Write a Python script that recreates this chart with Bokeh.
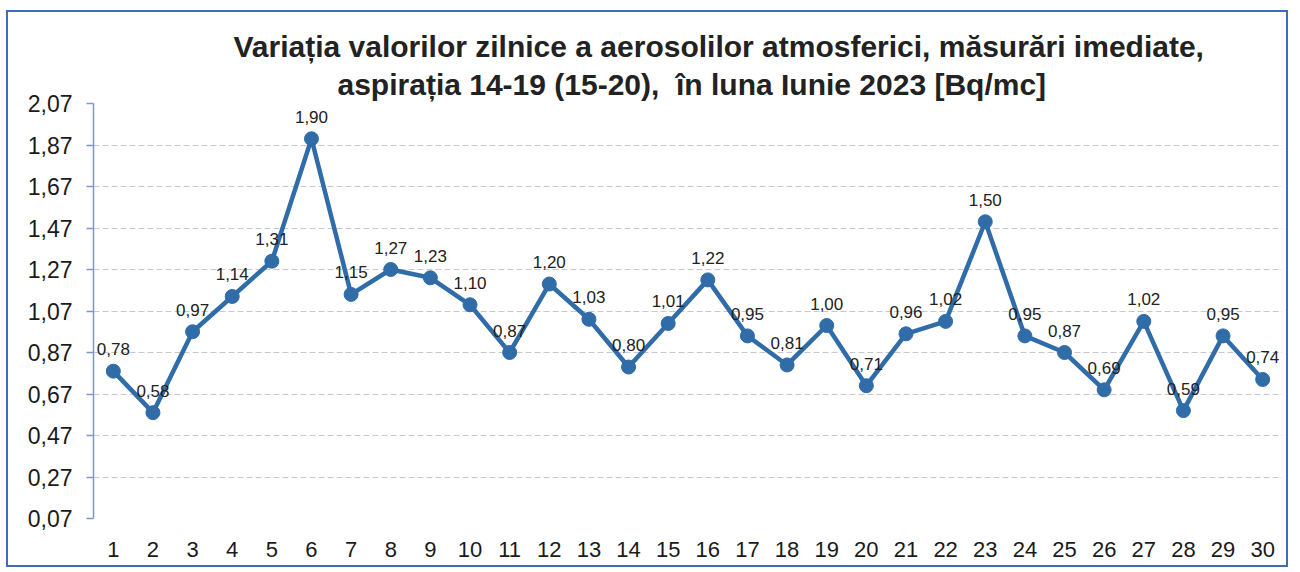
from bokeh.plotting import figure
from bokeh.layouts import column
from bokeh.models import FixedTicker, CustomJSTickFormatter, Title, ColumnDataSource
from bokeh.embed import file_html
from bokeh.resources import INLINE
from bokeh.core.properties import value

days = list(range(1, 31))
values = [0.78, 0.58, 0.97, 1.14, 1.31, 1.90, 1.15, 1.27, 1.23, 1.10,
          0.87, 1.20, 1.03, 0.80, 1.01, 1.22, 0.95, 0.81, 1.00, 0.71,
          0.96, 1.02, 1.50, 0.95, 0.87, 0.69, 1.02, 0.59, 0.95, 0.74]
y_ticks = [0.07, 0.27, 0.47, 0.67, 0.87, 1.07, 1.27, 1.47, 1.67, 1.87, 2.07]
title_line1 = "Variația valorilor zilnice a aerosolilor atmosferici, măsurări imediate,"
title_line2 = "aspirația 14-19 (15-20),\u00a0 în luna Iunie 2023 [Bq/mc]"

labels = [f"{v:.2f}".replace(".", ",") for v in values]
src = ColumnDataSource(dict(x=days, y=values, lab=labels))

BLUE = "#2f6ca8"
FONT = "Liberation Sans"

p = figure(width=1278, height=553, x_range=(0.5, 30.5), y_range=(0.07, 2.07),
           output_backend="svg", toolbar_location=None, title=None,
           min_border_left=85, min_border_right=4, min_border_top=91, min_border_bottom=47)
p.outline_line_color = None
p.background_fill_color = "white"
p.border_fill_color = "white"

t2 = Title(text=title_line2, align="left", offset=244, text_font=FONT,
           text_font_size="30px", text_font_style="bold", text_color="#222222", standoff=6)
t1 = Title(text=title_line1, align="left", offset=140, text_font=FONT,
           text_font_size="30px", text_font_style="bold", text_color="#222222", standoff=0)
p.add_layout(t2, "above")
p.add_layout(t1, "above")

p.line("x", "y", source=src, line_color=BLUE, line_width=4.5)
p.scatter("x", "y", source=src, size=14, fill_color=BLUE, line_color=BLUE)
p.text("x", "y", text="lab", source=src, text_font=value(FONT), text_font_size="17px",
       text_align="center", text_baseline="alphabetic", y_offset=-22, text_color="#222222")

# y axis
p.yaxis.ticker = FixedTicker(ticks=y_ticks)
p.yaxis.formatter = CustomJSTickFormatter(code="return tick.toFixed(2).replace('.', ',');")
p.yaxis.major_label_text_font = FONT
p.yaxis.major_label_text_font_size = "23px"
p.yaxis.major_label_text_color = "#1a1a1a"
p.yaxis.axis_line_color = "#7c98c9"
p.yaxis.axis_line_width = 1.5
p.yaxis.major_tick_line_color = "#7c98c9"
p.yaxis.major_tick_line_width = 1.5
p.yaxis.major_tick_out = 7
p.yaxis.major_tick_in = 0
p.yaxis.minor_tick_line_color = None
p.yaxis.major_label_standoff = 14

# x axis
p.xaxis.ticker = FixedTicker(ticks=days)
p.xaxis.major_label_text_font = FONT
p.xaxis.major_label_text_font_size = "22px"
p.xaxis.major_label_text_color = "#1a1a1a"
p.xaxis.axis_line_color = None
p.xaxis.major_tick_line_color = None
p.xaxis.minor_tick_line_color = None
p.xaxis.major_label_standoff = 17

p.xgrid.grid_line_color = None
p.ygrid.grid_line_color = "#c8c8c8"
p.ygrid.grid_line_dash = "6 3"
p.ygrid.grid_line_width = 1

layout = column(p, styles={"border": "2px solid #3f6db3", "margin-left": "6px", "margin-top": "10px"})

open("out.html", "w").write(file_html(layout, INLINE))
